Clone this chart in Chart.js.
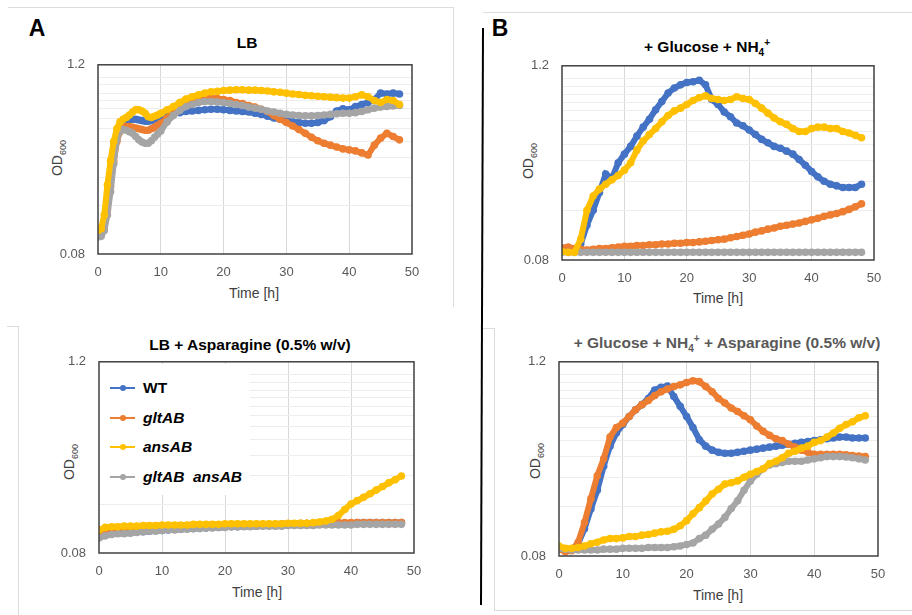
<!DOCTYPE html>
<html lang="en">
<head>
<meta charset="UTF-8">
<title>OD600 growth curves</title>
<script src="https://cdnjs.cloudflare.com/ajax/libs/Chart.js/4.4.1/chart.umd.min.js"></script>
<style>
  body { margin: 0; background: #fff; font-family: "Liberation Sans", Arial, sans-serif; }
  #page { position: relative; width: 912px; height: 615px; overflow: hidden; }
  canvas { position: absolute; }
  .line { position: absolute; background: #dcdcdc; }
  .letter { position: absolute; transform: translate(-50%, -50%); font-size: 23px; font-weight: bold; color: #000; }
  .title { position: absolute; transform: translate(-50%, -50%); font-size: 15.5px; font-weight: bold; color: #000; white-space: nowrap; }
  .title sub, .title sup { font-size: 10px; line-height: 0; }
  .ylab { position: absolute; transform: translate(-50%, -50%) rotate(-90deg); font-size: 14px; color: #404040; white-space: nowrap; }
  .ylab sub { font-size: 9px; line-height: 0; }
  .xlab { position: absolute; transform: translate(-50%, -50%); font-size: 14px; color: #404040; white-space: nowrap; }
  #legend { position: absolute; background: #fff; }
  .item { position: absolute; left: 10px; height: 20px; font-size: 15.5px; font-weight: bold; color: #000; white-space: nowrap; }
  .item i { font-style: italic; }
  .mark { position: absolute; left: 0; top: 9px; width: 25px; height: 2px; }
  .mark span { position: absolute; left: 10px; top: -2px; width: 6px; height: 6px; border-radius: 3px; }
  .item .txt { position: absolute; left: 33px; top: 0; line-height: 20px; }
</style>
</head>
<body>
<div id="page">
  <div class="line" style="left:8px; top:7px; width:445px; height:1px;"></div>
  <div class="line" style="left:453px; top:7px; width:1px; height:300px;"></div>
  <div class="line" style="left:483px; top:12px; width:429px; height:1px;"></div>
  <div class="line" style="left:7px; top:326px; width:11px; height:1px;"></div>
  <div class="line" style="left:18px; top:326px; width:1px; height:289px;"></div>
  <div class="line" style="left:483px; top:328px; width:11px; height:1px;"></div>
  <div class="line" style="left:494px; top:328px; width:1px; height:282px;"></div>
  <div class="line" style="left:494px; top:610px; width:418px; height:1px;"></div>
  <svg style="position:absolute; left:0; top:0;" width="912" height="615">
    <line x1="483" y1="28" x2="481" y2="605" stroke="#000" stroke-width="2"/>
  </svg>

  <div class="letter" style="left:37px; top:28px;">A</div>
  <div class="letter" style="left:500px; top:28px;">B</div>

  <div class="title" style="left:247px; top:43px;">LB</div>
  <div class="title" style="left:707px; top:47px;">+ Glucose + NH<sub>4</sub><sup>+</sup></div>
  <div class="title" style="left:250px; top:345px;">LB + Asparagine (0.5% w/v)</div>
  <div class="title" style="left:727px; top:343px; color:#595959;">+ Glucose + NH<sub>4</sub><sup>+</sup> + Asparagine (0.5% w/v)</div>

  <div class="ylab" style="left:57px; top:158px;">OD<sub>600</sub></div>
  <div class="ylab" style="left:528px; top:161px;">OD<sub>600</sub></div>
  <div class="ylab" style="left:69px; top:462px;">OD<sub>600</sub></div>
  <div class="ylab" style="left:535px; top:461px;">OD<sub>600</sub></div>

  <div class="xlab" style="left:254px; top:293px;">Time [h]</div>
  <div class="xlab" style="left:718px; top:298px;">Time [h]</div>
  <div class="xlab" style="left:257px; top:592px;">Time [h]</div>
  <div class="xlab" style="left:718px; top:595px;">Time [h]</div>
</div>

<script>
// time points (h)
const hoursA = [0, 0.5, 1, 1.5, 2, 2.5, 3, 3.5, 4, 4.5, 5, 5.5, 6, 6.5, 7, 7.5, 8, 8.5, 9, 9.5, 10,
  11, 12, 13, 14, 15, 16, 17, 18, 19, 20, 21, 22, 23, 24, 25, 26, 27, 28, 29, 30,
  31, 32, 33, 34, 35, 36, 37, 38, 39, 40, 41, 42, 43, 44, 45, 46, 47, 48];
const hours = [0, 1, 2, 3, 4, 5, 6, 7, 8, 9, 10, 11, 12, 13, 14, 15, 16, 17, 18, 19, 20,
  21, 22, 23, 24, 25, 26, 27, 28, 29, 30, 31, 32, 33, 34, 35, 36, 37, 38, 39, 40,
  41, 42, 43, 44, 45, 46, 47, 48];

const seriesNames = ['WT', 'gltAB', 'ansAB', 'gltAB  ansAB'];
const seriesColors = ['#4472C4', '#ED7D31', '#FFC000', '#A5A5A5'];
const drawOrder = [3, 2, 0, 1];   // ansAB on top, then double mutant

const xTicks = [0, 10, 20, 30, 40, 50];
const yGrid = [0.08, 0.16, 0.24, 0.32, 0.40, 0.48, 0.56, 0.64, 0.72, 0.80, 0.90, 1.0, 1.2];
const yLabels = ['0.08', '1.2'];

// A: LB
const lbWT = [0.105, 0.107, 0.122, 0.175, 0.26, 0.36, 0.45, 0.51, 0.53, 0.54, 0.545, 0.55, 0.55, 0.545, 0.54, 0.535, 0.535, 0.54, 0.55, 0.56, 0.57,
  0.585, 0.595, 0.605, 0.615, 0.62, 0.625, 0.63, 0.635, 0.635, 0.63,
  0.625, 0.62, 0.615, 0.61, 0.60, 0.59, 0.575, 0.56, 0.55, 0.54,
  0.53, 0.525, 0.52, 0.52, 0.525, 0.54, 0.57, 0.62, 0.64, 0.63,
  0.66, 0.68, 0.70, 0.73, 0.80, 0.79, 0.80, 0.79];
const lbGlt = [0.104, 0.106, 0.115, 0.15, 0.21, 0.30, 0.40, 0.46, 0.49, 0.495, 0.495, 0.49, 0.485, 0.48, 0.475, 0.47, 0.47, 0.48, 0.49, 0.505, 0.52,
  0.56, 0.60, 0.64, 0.67, 0.70, 0.72, 0.74, 0.745, 0.74, 0.73,
  0.72, 0.70, 0.69, 0.67, 0.655, 0.635, 0.615, 0.58, 0.55, 0.525,
  0.50, 0.475, 0.45, 0.425, 0.405, 0.39, 0.38, 0.37, 0.36, 0.355,
  0.35, 0.34, 0.33, 0.38, 0.42, 0.45, 0.43, 0.41];
const lbAns = [0.112, 0.115, 0.14, 0.215, 0.305, 0.40, 0.48, 0.53, 0.55, 0.565, 0.585, 0.61, 0.63, 0.63, 0.62, 0.60, 0.57, 0.565, 0.575, 0.585, 0.60,
  0.63, 0.66, 0.70, 0.735, 0.76, 0.78, 0.80, 0.815, 0.82, 0.83,
  0.835, 0.84, 0.84, 0.835, 0.835, 0.83, 0.825, 0.815, 0.81, 0.80,
  0.79, 0.785, 0.775, 0.77, 0.765, 0.76, 0.755, 0.75, 0.745, 0.745,
  0.76, 0.78, 0.76, 0.72, 0.70, 0.73, 0.72, 0.68];
const lbDbl = [0.102, 0.103, 0.112, 0.14, 0.195, 0.29, 0.41, 0.465, 0.475, 0.47, 0.46, 0.45, 0.43, 0.41, 0.397, 0.39, 0.39, 0.405, 0.425, 0.445, 0.465,
  0.53, 0.58, 0.625, 0.66, 0.68, 0.70, 0.71, 0.71, 0.705, 0.70,
  0.69, 0.68, 0.67, 0.655, 0.645, 0.635, 0.62, 0.61, 0.60, 0.59,
  0.585, 0.58, 0.578, 0.578, 0.58, 0.585, 0.59, 0.595, 0.60, 0.60,
  0.605, 0.615, 0.63, 0.645, 0.655, 0.66, 0.665, 0.67];

// B: + Glucose + NH4+
const glcWT = [0.093, 0.095, 0.092, 0.10, 0.13, 0.16, 0.205, 0.265, 0.25, 0.31,
  0.35, 0.39, 0.45, 0.51, 0.57, 0.65, 0.73, 0.82, 0.88, 0.92,
  0.95, 0.96, 0.98, 0.92, 0.75, 0.70, 0.63, 0.59, 0.54, 0.52,
  0.49, 0.46, 0.43, 0.41, 0.39, 0.38, 0.365, 0.35, 0.325, 0.30,
  0.275, 0.255, 0.24, 0.23, 0.225, 0.22, 0.22, 0.22, 0.23];
const glcGlt = [0.095, 0.096, 0.094, 0.093, 0.092, 0.093, 0.094, 0.094, 0.095, 0.096,
  0.097, 0.097, 0.098, 0.098, 0.099, 0.099, 0.100, 0.100, 0.101, 0.101,
  0.102, 0.102, 0.103, 0.104, 0.105, 0.106, 0.107, 0.109, 0.111, 0.113,
  0.115, 0.118, 0.120, 0.123, 0.125, 0.128, 0.130, 0.132, 0.134, 0.137,
  0.140, 0.143, 0.147, 0.150, 0.153, 0.157, 0.162, 0.168, 0.175];
const glcAns = [0.090, 0.089, 0.089, 0.107, 0.16, 0.195, 0.215, 0.23, 0.245, 0.26,
  0.28, 0.31, 0.37, 0.42, 0.46, 0.50, 0.55, 0.60, 0.64, 0.665,
  0.70, 0.74, 0.77, 0.79, 0.76, 0.75, 0.74, 0.75, 0.78, 0.76,
  0.75, 0.71, 0.665, 0.62, 0.58, 0.55, 0.53, 0.50, 0.48, 0.48,
  0.50, 0.51, 0.51, 0.50, 0.50, 0.48, 0.47, 0.455, 0.44];
const glcDbl = [0.089, 0.089, 0.089, 0.089, 0.089, 0.089, 0.089, 0.089, 0.089, 0.089,
  0.089, 0.089, 0.089, 0.089, 0.089, 0.089, 0.089, 0.089, 0.089, 0.089,
  0.089, 0.089, 0.089, 0.089, 0.089, 0.089, 0.089, 0.089, 0.089, 0.089,
  0.089, 0.089, 0.089, 0.089, 0.089, 0.089, 0.089, 0.089, 0.089, 0.089,
  0.089, 0.089, 0.089, 0.089, 0.089, 0.089, 0.089, 0.089, 0.089];

// C: LB + Asparagine
const asnWT = [0.101, 0.103, 0.105, 0.106, 0.106, 0.107, 0.108, 0.108, 0.109, 0.110,
  0.110, 0.111, 0.112, 0.112, 0.113, 0.113, 0.114, 0.114, 0.115, 0.115,
  0.116, 0.116, 0.116, 0.117, 0.117, 0.117, 0.118, 0.118, 0.118, 0.119,
  0.119, 0.119, 0.120, 0.120, 0.120, 0.121, 0.121, 0.122, 0.122, 0.122,
  0.122, 0.123, 0.123, 0.123, 0.123, 0.123, 0.123, 0.123, 0.123];
const asnGlt = [0.102, 0.105, 0.107, 0.108, 0.109, 0.110, 0.110, 0.111, 0.112, 0.112,
  0.113, 0.113, 0.114, 0.114, 0.115, 0.115, 0.116, 0.116, 0.117, 0.117,
  0.118, 0.118, 0.118, 0.119, 0.119, 0.119, 0.120, 0.120, 0.120, 0.121,
  0.121, 0.121, 0.122, 0.122, 0.122, 0.123, 0.123, 0.123, 0.123, 0.123,
  0.123, 0.123, 0.123, 0.123, 0.123, 0.123, 0.123, 0.123, 0.123];
const asnAns = [0.111, 0.115, 0.116, 0.116, 0.117, 0.117, 0.117, 0.118, 0.118, 0.118,
  0.119, 0.119, 0.119, 0.119, 0.119, 0.120, 0.120, 0.120, 0.120, 0.120,
  0.121, 0.121, 0.121, 0.121, 0.121, 0.121, 0.121, 0.121, 0.121, 0.121,
  0.122, 0.122, 0.122, 0.122, 0.123, 0.124, 0.126, 0.129, 0.136, 0.148,
  0.160, 0.168, 0.176, 0.185, 0.195, 0.205, 0.216, 0.226, 0.238];
const asnDbl = [0.099, 0.102, 0.104, 0.105, 0.105, 0.106, 0.107, 0.108, 0.109, 0.109,
  0.110, 0.111, 0.111, 0.112, 0.112, 0.113, 0.113, 0.114, 0.114, 0.115,
  0.115, 0.116, 0.116, 0.116, 0.116, 0.117, 0.117, 0.117, 0.117, 0.117,
  0.118, 0.118, 0.118, 0.118, 0.118, 0.119, 0.119, 0.119, 0.119, 0.119,
  0.119, 0.120, 0.120, 0.120, 0.120, 0.120, 0.120, 0.120, 0.120];

// D: + Glucose + NH4+ + Asparagine
const mixWT = [0.090, 0.088, 0.088, 0.095, 0.117, 0.154, 0.20, 0.28, 0.37, 0.445,
  0.50, 0.56, 0.615, 0.66, 0.72, 0.81, 0.84, 0.855, 0.74, 0.645,
  0.56, 0.48, 0.405, 0.37, 0.35, 0.34, 0.335, 0.335, 0.34, 0.345,
  0.35, 0.355, 0.36, 0.365, 0.37, 0.375, 0.38, 0.385, 0.39, 0.395,
  0.40, 0.405, 0.41, 0.415, 0.42, 0.42, 0.415, 0.415, 0.415];
const mixGlt = [0.088, 0.085, 0.086, 0.097, 0.128, 0.178, 0.245, 0.31, 0.42, 0.48,
  0.51, 0.56, 0.615, 0.66, 0.70, 0.75, 0.79, 0.82, 0.85, 0.87,
  0.90, 0.92, 0.91, 0.85, 0.79, 0.72, 0.675, 0.63, 0.60, 0.565,
  0.535, 0.49, 0.455, 0.43, 0.41, 0.40, 0.38, 0.365, 0.35, 0.34,
  0.33, 0.33, 0.33, 0.33, 0.33, 0.328, 0.325, 0.322, 0.32];
const mixAns = [0.092, 0.089, 0.089, 0.090, 0.092, 0.095, 0.097, 0.100, 0.102, 0.102,
  0.103, 0.105, 0.105, 0.107, 0.108, 0.110, 0.112, 0.113, 0.116, 0.122,
  0.131, 0.144, 0.157, 0.172, 0.19, 0.203, 0.218, 0.222, 0.228, 0.24,
  0.25, 0.26, 0.27, 0.29, 0.30, 0.315, 0.335, 0.345, 0.36, 0.37,
  0.39, 0.40, 0.42, 0.445, 0.475, 0.50, 0.52, 0.55, 0.565];
const mixDbl = [0.089, 0.088, 0.087, 0.087, 0.087, 0.087, 0.087, 0.088, 0.088, 0.088,
  0.089, 0.089, 0.089, 0.089, 0.090, 0.090, 0.090, 0.090, 0.091, 0.092,
  0.094, 0.096, 0.102, 0.107, 0.116, 0.125, 0.137, 0.155, 0.173, 0.20,
  0.228, 0.25, 0.27, 0.285, 0.29, 0.295, 0.30, 0.30, 0.30, 0.305,
  0.31, 0.315, 0.32, 0.32, 0.32, 0.318, 0.315, 0.31, 0.305];

const FONT = '"Liberation Sans", Arial, sans-serif';
const padL = 60, padT = 12, padR = 20, padB = 30;

const frameBorder = {
  id: 'frameBorder',
  afterDraw(chart) {
    const a = chart.chartArea, c = chart.ctx;
    c.save();
    c.strokeStyle = '#404040';
    c.lineWidth = 1.5;
    c.strokeRect(a.left, a.top, a.right - a.left, a.bottom - a.top);
    c.restore();
  }
};

function buildChart(plot, xs, series, ex) {
  const cv = document.createElement('canvas');
  cv.width = plot.r - plot.l + padL + padR + ex.l + ex.r;
  cv.height = plot.b - plot.t + padT + padB + ex.t + ex.b;
  cv.style.left = (plot.l - padL - ex.l) + 'px';
  cv.style.top = (plot.t - padT - ex.t) + 'px';
  document.getElementById('page').appendChild(cv);

  const datasets = series.map((ys, k) => ({
    label: seriesNames[k],
    data: xs.map((x, i) => ({ x: x, y: ys[i] })),
    borderColor: seriesColors[k],
    backgroundColor: seriesColors[k],
    borderWidth: 6,
    pointRadius: 3.8,
    pointBorderWidth: 0,
    tension: 0,
    order: drawOrder[k]
  }));

  return new Chart(cv, {
    type: 'line',
    data: { datasets },
    options: {
      responsive: false,
      animation: false,
      layout: { padding: { left: 0, top: padT, right: padR, bottom: 0 } },
      plugins: { legend: { display: false }, tooltip: { enabled: false } },
      scales: {
        x: {
          type: 'linear', min: 0, max: 50,
          afterBuildTicks: s => { s.ticks = xTicks.map(v => ({ value: v })); },
          afterFit: s => { s.height = padB; },
          ticks: { color: '#595959', font: { family: FONT, size: 13 }, padding: 11, maxRotation: 0, autoSkip: false },
          grid: { drawTicks: false, lineWidth: 1, color: c => (c.tick && (c.tick.value === 0 || c.tick.value === 50)) ? 'rgba(0,0,0,0)' : '#d9d9d9' },
          border: { display: false }
        },
        y: {
          type: 'logarithmic', min: 0.08, max: 1.2,
          afterBuildTicks: s => { s.ticks = yGrid.map(v => ({ value: v })); },
          afterFit: s => { s.width = padL; },
          ticks: {
            color: '#595959', font: { family: FONT, size: 13 }, padding: 13, autoSkip: false,
            callback: v => (v === 0.08 || v === 1.2) ? yLabels[v === 0.08 ? 0 : 1] : ''
          },
          grid: { drawTicks: false, lineWidth: 1, color: c => (c.tick && (c.tick.value === 0.08 || c.tick.value === 1.2)) ? 'rgba(0,0,0,0)' : '#ededed' },
          border: { display: false }
        }
      }
    },
    plugins: [frameBorder]
  });
}

// build once, measure where Chart.js put the plot area, then rebuild so it lands on `plot`
function makePanel(plot, xs, series) {
  let chart = buildChart(plot, xs, series, { l: 0, t: 0, r: 0, b: 0 });
  const a = chart.chartArea, cv = chart.canvas;
  const ex = {
    l: Math.max(0, a.left - padL),
    t: Math.max(0, a.top - padT),
    r: Math.max(0, (cv.width - padR) - a.right),
    b: Math.max(0, (cv.height - padB) - a.bottom)
  };
  chart.destroy();
  cv.remove();
  return buildChart(plot, xs, series, ex);
}

makePanel({ l: 98, t: 65, r: 412, b: 255 }, hoursA, [lbWT, lbGlt, lbAns, lbDbl]);
makePanel({ l: 562, t: 66, r: 874, b: 261 }, hours, [glcWT, glcGlt, glcAns, glcDbl]);
makePanel({ l: 99, t: 362, r: 414, b: 554 }, hours, [asnWT, asnGlt, asnAns, asnDbl]);
makePanel({ l: 559, t: 362, r: 878, b: 557 }, hours, [mixWT, mixGlt, mixAns, mixDbl]);

// legend inside panel C
const legend = document.createElement('div');
legend.id = 'legend';
legend.style.left = '100px';
legend.style.top = '364px';
legend.style.width = '150px';
legend.style.height = '131px';
const itemTops = [14, 44, 73, 103];
seriesNames.forEach((name, k) => {
  const it = document.createElement('div');
  it.className = 'item';
  it.style.top = itemTops[k] + 'px';
  const label = k === 0 ? name : name.split('  ').map(w => '<i>' + w + '</i>').join('&nbsp;&nbsp;');
  it.innerHTML = '<div class="mark" style="background:' + seriesColors[k] + '"><span style="background:' + seriesColors[k] + '"></span></div>' +
    '<span class="txt">' + label + '</span>';
  legend.appendChild(it);
});
document.getElementById('page').appendChild(legend);
</script>
</body>
</html>
